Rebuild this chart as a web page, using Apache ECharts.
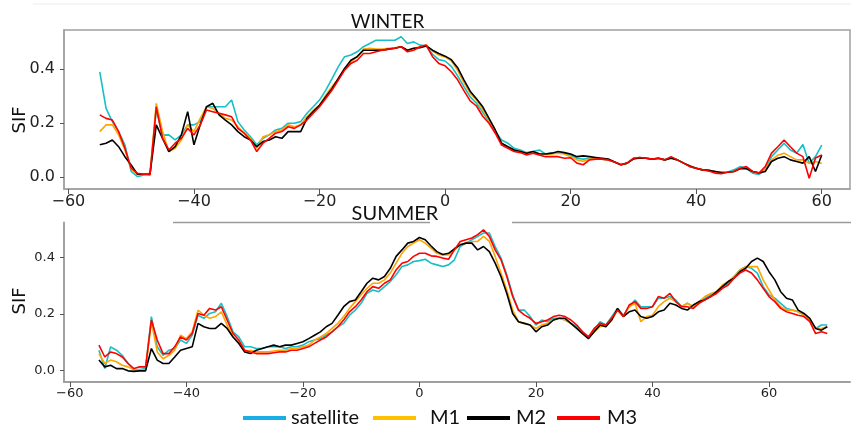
<!DOCTYPE html>
<html>
<head>
<meta charset="utf-8">
<script src="https://cdn.jsdelivr.net/npm/echarts@6/dist/echarts.min.js"></script>
<style>html,body{margin:0;padding:0;background:#fff}#c{width:851px;height:425px}</style>
</head>
<body>
<div id="c"></div>
<script>
// ---------- DATA ----------
const winterX = [];
for (let v = -55; v <= 60; v++) winterX.push(v);
const summerX = [];
for (let v = -55; v <= 70; v++) summerX.push(v);

const winterSatellite = [
0.39,0.254,0.205,0.168,0.119,0.02,0.001,0.007,0.013,0.248,
0.155,0.156,0.137,0.156,0.193,0.193,0.205,0.26,0.26,0.26,
0.26,0.285,0.205,0.174,0.149,0.119,0.143,0.156,0.174,0.18,
0.199,0.199,0.205,0.236,0.26,0.285,0.322,0.365,0.409,0.446,
0.452,0.464,0.483,0.495,0.507,0.507,0.507,0.507,0.52,0.495,
0.501,0.489,0.486,0.455,0.435,0.43,0.41,0.375,0.335,0.297,
0.273,0.24,0.205,0.168,0.137,0.125,0.106,0.1,0.09,0.094,
0.1,0.085,0.088,0.088,0.088,0.081,0.069,0.066,0.069,0.069,
0.066,0.063,0.055,0.045,0.051,0.069,0.072,0.069,0.066,0.069,
0.063,0.072,0.063,0.051,0.038,0.032,0.026,0.024,0.02,0.016,
0.017,0.026,0.038,0.032,0.014,0.009,0.026,0.075,0.1,0.125,
0.1,0.088,0.12,0.05,0.075,0.118];
const winterM1 = [
0.168,0.193,0.193,0.156,0.1,0.03,0.01,0.01,0.013,0.273,
0.168,0.094,0.106,0.137,0.193,0.168,0.217,0.26,0.254,0.236,
0.217,0.211,0.186,0.162,0.143,0.106,0.149,0.156,0.168,0.174,
0.193,0.186,0.193,0.223,0.248,0.266,0.304,0.335,0.365,0.402,
0.427,0.446,0.474,0.477,0.474,0.474,0.477,0.479,0.483,0.47,
0.477,0.483,0.489,0.467,0.452,0.445,0.43,0.395,0.35,0.31,
0.285,0.25,0.21,0.17,0.125,0.112,0.1,0.094,0.088,0.091,
0.086,0.083,0.085,0.088,0.085,0.075,0.063,0.058,0.066,0.066,
0.066,0.063,0.055,0.045,0.051,0.069,0.072,0.069,0.066,0.069,
0.063,0.072,0.063,0.051,0.04,0.032,0.026,0.024,0.02,0.016,
0.017,0.02,0.032,0.032,0.02,0.016,0.026,0.063,0.08,0.088,
0.075,0.063,0.063,0.05,0.057,0.05];
const winterM2 = [
0.119,0.125,0.137,0.112,0.075,0.044,0.01,0.01,0.01,0.193,
0.143,0.094,0.112,0.156,0.242,0.119,0.193,0.26,0.273,0.23,
0.211,0.193,0.168,0.149,0.137,0.112,0.131,0.137,0.149,0.143,
0.168,0.168,0.168,0.217,0.242,0.266,0.297,0.328,0.365,0.402,
0.433,0.446,0.47,0.47,0.47,0.47,0.474,0.477,0.483,0.47,
0.477,0.479,0.486,0.47,0.458,0.448,0.435,0.405,0.36,0.318,
0.29,0.26,0.217,0.174,0.125,0.112,0.1,0.094,0.088,0.094,
0.086,0.085,0.088,0.094,0.09,0.085,0.075,0.078,0.075,0.072,
0.069,0.066,0.055,0.045,0.051,0.066,0.07,0.069,0.066,0.069,
0.063,0.069,0.063,0.051,0.04,0.032,0.026,0.024,0.02,0.016,
0.017,0.02,0.03,0.03,0.02,0.014,0.02,0.057,0.069,0.075,
0.063,0.057,0.051,0.075,0.02,0.081];
const winterM3 = [
0.23,0.217,0.211,0.168,0.106,0.032,0.013,0.01,0.007,0.26,
0.143,0.1,0.125,0.143,0.18,0.156,0.193,0.248,0.242,0.236,
0.23,0.223,0.18,0.162,0.137,0.094,0.125,0.143,0.162,0.168,
0.186,0.18,0.193,0.211,0.236,0.26,0.291,0.322,0.359,0.396,
0.421,0.433,0.458,0.458,0.464,0.47,0.474,0.477,0.483,0.464,
0.47,0.483,0.489,0.446,0.421,0.412,0.39,0.36,0.32,0.282,
0.263,0.225,0.199,0.162,0.118,0.106,0.094,0.09,0.081,0.088,
0.081,0.075,0.075,0.075,0.069,0.071,0.051,0.045,0.063,0.066,
0.066,0.063,0.055,0.045,0.051,0.069,0.072,0.069,0.066,0.069,
0.063,0.075,0.063,0.051,0.038,0.032,0.026,0.022,0.014,0.012,
0.017,0.02,0.032,0.038,0.02,0.014,0.038,0.088,0.112,0.137,
0.112,0.088,0.075,-0.005,0.07,0.081];

const summerSatellite = [
0.071,0.006,0.083,0.071,0.053,0.024,0.0,0.003,0.006,0.19,
0.083,0.053,0.071,0.077,0.107,0.095,0.124,0.195,0.184,0.201,
0.207,0.237,0.19,0.136,0.118,0.083,0.083,0.077,0.077,0.083,
0.083,0.083,0.077,0.083,0.083,0.089,0.101,0.107,0.112,0.124,
0.136,0.154,0.166,0.195,0.213,0.237,0.272,0.284,0.278,0.296,
0.314,0.338,0.367,0.373,0.385,0.388,0.393,0.379,0.373,0.367,
0.373,0.391,0.438,0.45,0.462,0.474,0.486,0.486,0.438,0.397,
0.338,0.267,0.213,0.213,0.19,0.16,0.178,0.172,0.184,0.184,
0.178,0.166,0.154,0.136,0.118,0.142,0.172,0.16,0.19,0.219,
0.195,0.225,0.249,0.225,0.225,0.225,0.255,0.255,0.261,0.249,
0.225,0.237,0.225,0.243,0.255,0.267,0.278,0.296,0.308,0.332,
0.355,0.367,0.361,0.344,0.296,0.267,0.255,0.237,0.219,0.213,
0.207,0.195,0.178,0.148,0.16,0.16];
const summerM1 = [
0.059,0.024,0.036,0.03,0.018,0.012,0.002,0.002,0.002,0.172,
0.065,0.041,0.053,0.071,0.124,0.112,0.136,0.213,0.195,0.184,
0.19,0.207,0.16,0.118,0.101,0.065,0.071,0.065,0.065,0.065,
0.068,0.071,0.071,0.077,0.077,0.083,0.089,0.107,0.118,0.13,
0.148,0.166,0.19,0.219,0.243,0.267,0.29,0.308,0.308,0.32,
0.344,0.379,0.414,0.438,0.45,0.462,0.45,0.432,0.414,0.408,
0.408,0.426,0.444,0.45,0.456,0.456,0.474,0.456,0.403,0.344,
0.284,0.213,0.172,0.166,0.16,0.148,0.16,0.166,0.178,0.184,
0.178,0.166,0.148,0.13,0.118,0.136,0.154,0.16,0.178,0.213,
0.19,0.225,0.237,0.172,0.19,0.195,0.225,0.243,0.255,0.243,
0.225,0.237,0.225,0.243,0.261,0.272,0.278,0.302,0.314,0.332,
0.355,0.367,0.367,0.367,0.32,0.284,0.249,0.225,0.213,0.213,
0.207,0.195,0.178,0.148,0.148,0.154];
const summerM2 = [
0.036,0.012,0.018,0.006,0.006,-0.002,-0.004,-0.002,-0.002,0.077,
0.036,0.024,0.024,0.047,0.071,0.077,0.083,0.166,0.154,0.148,
0.148,0.166,0.148,0.118,0.095,0.065,0.059,0.071,0.077,0.083,
0.089,0.083,0.089,0.089,0.095,0.101,0.112,0.124,0.136,0.154,
0.166,0.195,0.225,0.243,0.249,0.278,0.308,0.326,0.32,0.332,
0.361,0.403,0.426,0.45,0.456,0.47,0.462,0.44,0.42,0.41,
0.414,0.43,0.444,0.45,0.45,0.426,0.438,0.42,0.379,0.332,
0.272,0.201,0.172,0.166,0.16,0.136,0.154,0.16,0.178,0.184,
0.184,0.166,0.148,0.13,0.112,0.136,0.16,0.154,0.178,0.219,
0.19,0.207,0.213,0.19,0.184,0.19,0.207,0.213,0.237,0.231,
0.219,0.213,0.231,0.243,0.249,0.261,0.278,0.296,0.314,0.326,
0.349,0.361,0.385,0.397,0.385,0.349,0.32,0.278,0.255,0.249,
0.213,0.201,0.184,0.148,0.142,0.154];
const summerM3 = [
0.089,0.047,0.065,0.059,0.047,0.024,0.006,0.012,0.012,0.178,
0.107,0.059,0.059,0.083,0.118,0.107,0.13,0.201,0.195,0.219,
0.213,0.225,0.178,0.13,0.107,0.071,0.065,0.059,0.059,0.059,
0.062,0.065,0.065,0.071,0.071,0.077,0.083,0.095,0.107,0.118,
0.136,0.154,0.178,0.207,0.225,0.249,0.278,0.296,0.29,0.308,
0.32,0.355,0.379,0.385,0.403,0.414,0.414,0.405,0.403,0.397,
0.393,0.426,0.456,0.462,0.468,0.48,0.497,0.474,0.426,0.391,
0.332,0.261,0.213,0.196,0.184,0.166,0.172,0.178,0.19,0.195,
0.19,0.178,0.16,0.136,0.118,0.148,0.166,0.16,0.184,0.213,
0.19,0.231,0.243,0.219,0.219,0.225,0.261,0.255,0.272,0.243,
0.225,0.225,0.219,0.237,0.249,0.261,0.272,0.29,0.302,0.326,
0.344,0.355,0.344,0.32,0.29,0.261,0.243,0.219,0.207,0.201,
0.195,0.19,0.172,0.13,0.136,0.13];

const xTicks = [-60, -40, -20, 0, 20, 40, 60];
const yTicks = [0.0, 0.2, 0.4];
const seriesNames = ['satellite', 'M1', 'M2', 'M3'];
const panelTitles = ['WINTER', 'SUMMER'];
const yAxisTitle = 'SIF';

// ---------- STYLE ----------
const lineColors = ['#17bfc6', '#ffa500', '#000000', '#ff0000'];
const legendColors = ['#1aaee6', '#ffc000', '#000000', '#ff0000'];
const tickFont = 'DejaVu Sans';
const titleFont = 'Lato';
const minus = v => String(v).replace('-', '\u2212');

function pairs(xs, ys) { return xs.map((x, i) => [x, ys[i]]); }

const winterSets = [winterSatellite, winterM1, winterM2, winterM3];
const summerSets = [summerSatellite, summerM1, summerM2, summerM3];

const series = [];
winterSets.forEach((arr, k) => series.push({
  name: seriesNames[k], type: 'line', xAxisIndex: 0, yAxisIndex: 0,
  data: pairs(winterX, arr), showSymbol: false, symbol: 'none',
  lineStyle: { color: lineColors[k], width: 1.6 }, itemStyle: { color: lineColors[k] },
  z: 2 + k, animation: false
}));
summerSets.forEach((arr, k) => series.push({
  name: seriesNames[k], type: 'line', xAxisIndex: 1, yAxisIndex: 1,
  data: pairs(summerX, arr), showSymbol: false, symbol: 'none',
  lineStyle: { color: lineColors[k], width: 1.6 }, itemStyle: { color: lineColors[k] },
  z: 2 + k, animation: false
}));

function xAxisCfg(grid, min, max, fs, lineW) {
  return {
    type: 'value', gridIndex: grid, min: min, max: max,
    axisLine: { show: true, onZero: false, lineStyle: { color: '#a0a0a0', width: lineW } },
    axisTick: { show: true, length: 5, customValues: xTicks, lineStyle: { color: '#555', width: 1 } },
    axisLabel: { customValues: xTicks, formatter: minus, fontSize: fs, color: '#222', fontFamily: tickFont, margin: 5 },
    splitLine: { show: false }
  };
}
function yAxisCfg(grid, min, max, fs, lineW) {
  return {
    type: 'value', gridIndex: grid, min: min, max: max,
    axisLine: { show: true, onZero: false, lineStyle: { color: '#a0a0a0', width: lineW } },
    axisTick: { show: true, length: 4, customValues: yTicks, lineStyle: { color: '#555', width: 1 } },
    axisLabel: { customValues: yTicks, formatter: v => v.toFixed(1), fontSize: fs, color: '#222', fontFamily: tickFont, margin: 9 },
    splitLine: { show: false }
  };
}

const legends = seriesNames.map((n, k) => ({
  left: [243, 373, 467, 557][k], top: 408, padding: 0,
  itemWidth: 43, itemHeight: 4, icon: 'rect',
  data: [{ name: n, icon: 'rect', itemStyle: { color: legendColors[k] } }],
  textStyle: { fontFamily: titleFont, fontSize: 20, lineHeight: 14, color: '#111', padding: [0, 0, 0, [0, 9, 1, 2][k]] },
  selectedMode: false
}));

const chart = echarts.init(document.getElementById('c'), null, { renderer: 'canvas' });
chart.setOption({
  animation: false,
  backgroundColor: '#fff',
  grid: [
    { left: 64, top: 30, width: 786, height: 159, show: true, borderColor: '#a0a0a0', borderWidth: 1.5, backgroundColor: 'transparent' },
    { left: 64, top: 222.5, width: 786, height: 159.5 }
  ],
  xAxis: [xAxisCfg(0, -60.7, 64.5, 16, 1.5), xAxisCfg(1, -61, 73.9, 13, 2)],
  yAxis: [yAxisCfg(0, -0.045, 0.545, 16, 1.5), yAxisCfg(1, -0.0415, 0.523, 13, 2)],
  legend: legends,
  series: series,
  graphic: [
    { type: 'line', shape: { x1: 33, y1: 4, x2: 851, y2: 4 }, style: { stroke: '#ececec', lineWidth: 1 }, silent: true },
    { type: 'line', shape: { x1: 173, y1: 222.5, x2: 430, y2: 222.5 }, style: { stroke: '#9a9a9a', lineWidth: 1.5 }, silent: true },
    { type: 'line', shape: { x1: 512, y1: 222.5, x2: 851, y2: 222.5 }, style: { stroke: '#9a9a9a', lineWidth: 1.5 }, silent: true },
    { type: 'text', x: 387.5, y: 22, style: { text: panelTitles[0], fontFamily: titleFont, fontSize: 19, fill: '#111', align: 'center', verticalAlign: 'middle' }, silent: true },
    { type: 'text', x: 395, y: 213.5, style: { text: panelTitles[1], fontFamily: titleFont, fontSize: 20, fill: '#111', align: 'center', verticalAlign: 'middle' }, silent: true },
    { type: 'text', x: 20, y: 120, rotation: Math.PI / 2, style: { text: yAxisTitle, fontFamily: tickFont, fontSize: 18, fill: '#111', align: 'center', verticalAlign: 'middle' }, silent: true },
    { type: 'text', x: 20, y: 301, rotation: Math.PI / 2, style: { text: yAxisTitle, fontFamily: tickFont, fontSize: 18, fill: '#111', align: 'center', verticalAlign: 'middle' }, silent: true }
  ]
});
</script>
</body>
</html>
